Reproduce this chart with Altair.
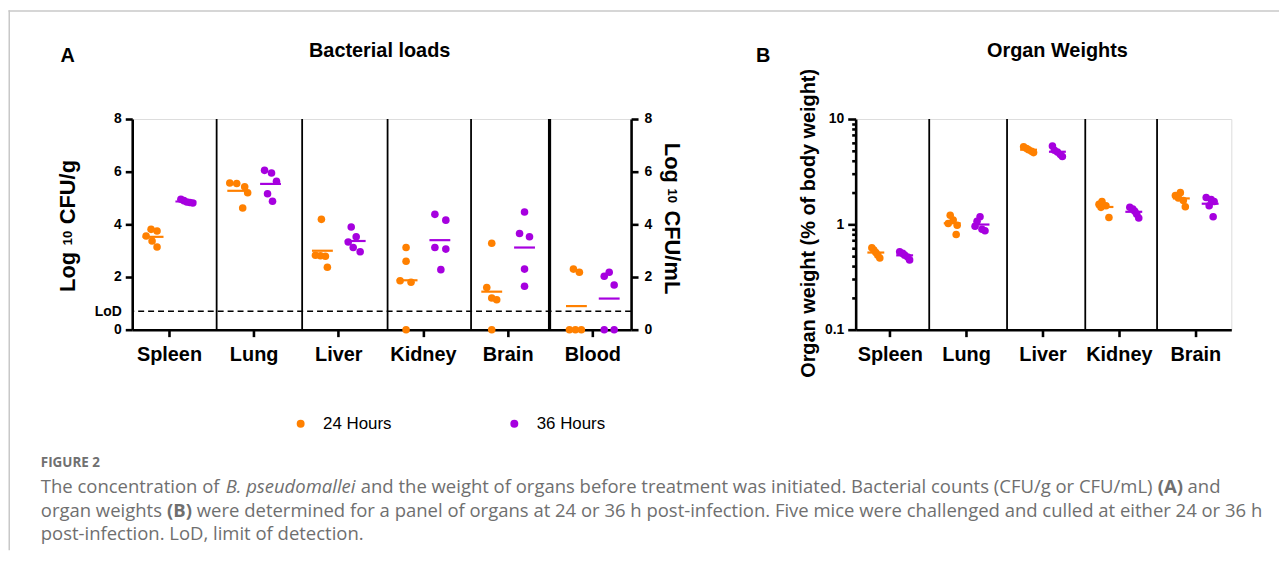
import json
import altair as alt
import pandas as pd

# ---------------------------------------------------------------- data
organs_A = ["Spleen", "Lung", "Liver", "Kidney", "Brain", "Blood"]
organs_B = ["Spleen", "Lung", "Liver", "Kidney", "Brain"]
times = ["24 Hours", "36 Hours"]

# Panel A: log10 CFU/g (organs) or log10 CFU/mL (blood), five mice per group
cfu_24h = [
    [3.81, 3.75, 3.56, 3.37, 3.14],
    [5.57, 5.55, 5.43, 5.20, 4.62],
    [4.19, 2.83, 2.81, 2.79, 2.37],
    [3.12, 2.60, 1.86, 1.80, 0.00],
    [3.28, 1.60, 1.20, 1.14, 0.00],
    [2.30, 2.18, 0.00, 0.00, 0.00],
]
cfu_36h = [
    [4.95, 4.90, 4.85, 4.83, 4.81],
    [6.05, 5.95, 5.64, 5.16, 4.88],
    [3.90, 3.53, 3.33, 3.12, 2.96],
    [4.38, 4.16, 3.12, 3.06, 2.28],
    [4.47, 3.65, 3.53, 2.30, 1.65],
    [2.03, 2.18, 1.70, 0.00, 0.00],
]
lod = [0.7]

# Panel B: organ weight, % of body weight
weight_24h = [
    [0.60, 0.57, 0.54, 0.51, 0.48],
    [1.22, 1.10, 1.02, 0.98, 0.80],
    [5.45, 5.25, 5.10, 4.95, 4.80],
    [1.65, 1.55, 1.50, 1.45, 1.16],
    [2.00, 1.88, 1.78, 1.68, 1.47],
]
weight_36h = [
    [0.55, 0.53, 0.51, 0.49, 0.46],
    [1.18, 1.07, 0.96, 0.90, 0.87],
    [5.55, 5.05, 4.85, 4.60, 4.40],
    [1.45, 1.40, 1.33, 1.25, 1.15],
    [1.80, 1.72, 1.65, 1.50, 1.18],
]

# horizontal scatter of the dots inside each group (px), as drawn in the figure
spread_A_24h = [[-2, 4, -7, -1, 4], [-8, -1, 7, 10, 5], [-1, -7, -2, 3, 5],
                [-1, -1, -7, 4, -1], [0, -5, 0, 5, 0], [-3, 3, -7, -1, 5]]
spread_A_36h = [[-5, -2, 1, 4, 7], [-6, 1, 6, -3, 2], [-4, 1, -7, -2, 5],
                [-5, 6, -5, 6, 1], [0, -5, 5, 0, 0], [-5, 0, 5, -5, 5]]
spread_B_24h = [[-4, -2, 0, 2, 4], [-2, 1, -4, 5, 4], [-5, -2, 0, 3, 5],
                [-3, -6, 1, -4, 4], [-1, -6, -3, 2, 4]]
spread_B_36h = [[-5, -2, 0, 3, 5], [-1, -4, -6, 1, 4], [-5, -3, 0, 3, 5],
                [-4, -1, 1, 3, 5], [-4, 1, 4, -1, 3]]

# category separators (in category units)
sep_A = [0.563, 1.573, 2.582, 3.568, 4.495]
sep_A_width = [1.8, 1.8, 1.8, 1.8, 3.2]
sep_B = [0.517, 1.536, 2.56, 3.5]

# ---------------------------------------------------------------- layout
FONT = "Liberation Sans"
CAP_FONT = "Open Sans"
COLORS = ["#FF8000", "#A600DF"]
A_W, A_H, A_STEP = 502, 212, 85.2
B_W, B_H, B_STEP = 378, 212, 76.85
A_OFF = {times[0]: -16, times[1]: 17}
B_OFF = {times[0]: -14, times[1]: 15}


def build(organs, v24, v36, s24, s36, step, offs):
    rows = []
    for i, org in enumerate(organs):
        for t, vals, spr in ((times[0], v24[i], s24[i]), (times[1], v36[i], s36[i])):
            for v, s in zip(vals, spr):
                rows.append(dict(organ=org, time=t, value=v,
                                 xpos=i + (offs[t] + s) / step,
                                 gx=i + offs[t] / step))
    return pd.DataFrame(rows)


dfA = build(organs_A, cfu_24h, cfu_36h, spread_A_24h, spread_A_36h, A_STEP, A_OFF)
dfB = build(organs_B, weight_24h, weight_36h, spread_B_24h, spread_B_36h, B_STEP, B_OFF)

cscale = alt.Scale(domain=times, range=COLORS)
legend = alt.Legend(orient="none", legendX=161, legendY=298, direction="horizontal",
                    title=None, symbolType="circle", symbolSize=64, symbolStrokeWidth=0,
                    labelFont=FONT, labelFontSize=17, labelColor="black", labelOffset=14,
                    columnPadding=115, padding=0)

common_axis = dict(grid=False, domainColor="black", domainWidth=2.6, tickColor="black",
                   tickWidth=2.6, labelFont=FONT, labelFontWeight="bold", labelColor="black",
                   labelFlush=False, labelOverlap=False, labelBound=False, title=None)


def text(s, x, y, size, weight="bold", font=FONT, color="black", align="left",
         angle=0, style="normal", baseline="alphabetic"):
    kw = dict(font=font, fontSize=size, fontWeight=weight, color=color, align=align,
              baseline=baseline, fontStyle=style)
    if angle:
        kw["angle"] = angle
    return alt.Chart(pd.DataFrame({"t": [s]})).mark_text(**kw).encode(
        text="t:N", x=alt.value(x), y=alt.value(y))


def frame(x, x2, y, y2):
    return alt.Chart(pd.DataFrame({"t": [0]})).mark_rect(color="#c8c8c8").encode(
        x=alt.value(x), x2=alt.value(x2), y=alt.value(y), y2=alt.value(y2))


def mean_layer(df, t, color, scale_x, scale_y, ax_x, ax_y, size):
    return alt.Chart(df).transform_filter(alt.datum.time == t).transform_aggregate(
        mean="mean(value)", groupby=["organ", "gx"]).mark_tick(
        orient="horizontal", size=size, thickness=2.2, opacity=1, color=color).encode(
        x=alt.X("gx:Q", scale=scale_x, axis=ax_x),
        y=alt.Y("mean:Q", scale=scale_y, axis=ax_y))


# ---------------------------------------------------------------- panel A
xA = alt.Scale(domain=[-0.434, 5.458], nice=False, zero=False)
yA = alt.Scale(domain=[0, 8], nice=False, zero=False)
axA_x = alt.Axis(values=list(range(len(organs_A))),
                 labelExpr=f"{json.dumps(organs_A)}[datum.value]",
                 tickSize=7, labelFontSize=20, labelPadding=8, **common_axis)
axA_left = alt.Axis(orient="left", values=[0, lod[0], 2, 4, 6, 8], format="d",
                    labelExpr="datum.value == 0.7 ? 'LoD' : datum.label",
                    tickOpacity={"condition": {"test": "datum.value == 0.7", "value": 0}, "value": 1},
                    tickSize=7, labelFontSize=14, labelPadding=4, **common_axis)
axA_right = alt.Axis(orient="right", values=[0, 2, 4, 6, 8], format="d",
                     tickSize=7, labelFontSize=14, labelPadding=6, **common_axis)

sepA = alt.Chart(pd.DataFrame({"sx": sep_A, "w": sep_A_width, "lo": 0, "hi": 8})).mark_rule(
    color="black").encode(
    x=alt.X("sx:Q", scale=xA, axis=axA_x),
    y=alt.Y("lo:Q", scale=yA, axis=None), y2="hi:Q",
    strokeWidth=alt.StrokeWidth("w:Q", scale=None, legend=None))
lodA = alt.Chart(pd.DataFrame({"lod": lod})).mark_rule(
    color="black", strokeDash=[6, 4], strokeWidth=1.6).encode(
    y=alt.Y("lod:Q", scale=yA, axis=None))
meanA24 = mean_layer(dfA, times[0], COLORS[0], xA, yA, axA_x, axA_right, 21)
meanA36 = mean_layer(dfA, times[1], COLORS[1], xA, yA, axA_x, None, 21)
ptsA = alt.Chart(dfA).mark_circle(size=58, opacity=1).encode(
    x=alt.X("xpos:Q", scale=xA, axis=axA_x),
    y=alt.Y("value:Q", scale=yA, axis=axA_left),
    color=alt.Color("time:N", scale=cscale, legend=legend))

GRAY = "#6f6f6f"
CS = 18.6
decoA = [
    frame(-124.5, -123, -109.5, 434),
    frame(-124.5, 1154, -109.5, -108),
    text("A", -65, -57, 20, align="center"),
    text("Bacterial loads", 249, -62, 20, align="center"),
    text("Log", -58, 174, 22, angle=270),
    text("10", -61, 127, 13, angle=270),
    text("CFU/g", -58, 106, 22, angle=270),
    text("Log", 536, 24, 22, angle=90),
    text("10", 539, 70, 13, angle=90),
    text("CFU/mL", 536, 92, 22, angle=90),
    # caption
    text("FIGURE 2", -92, 350, 13.5, weight="bold", font=CAP_FONT, color="#707070"),
    text("The concentration of", -92, 376, CS, weight="normal", font=CAP_FONT, color=GRAY),
    text("B. pseudomallei", 94, 376, CS, weight="normal", font=CAP_FONT, color=GRAY, style="italic"),
    text("and the weight of organs before treatment was initiated. Bacterial counts (CFU/g or CFU/mL)",
         230, 376, CS, weight="normal", font=CAP_FONT, color=GRAY),
    text("(A)", 1032, 376, CS, weight="bold", font=CAP_FONT, color=GRAY),
    text("and", 1062, 376, CS, weight="normal", font=CAP_FONT, color=GRAY),
    text("organ weights", -92, 400, CS, weight="normal", font=CAP_FONT, color=GRAY),
    text("(B)", 35, 400, CS, weight="bold", font=CAP_FONT, color=GRAY),
    text("were determined for a panel of organs at 24 or 36 h post-infection. Five mice were challenged and culled at either 24 or 36 h",
         65, 400, CS, weight="normal", font=CAP_FONT, color=GRAY),
    text("post-infection. LoD, limit of detection.", -92, 424, CS, weight="normal",
         font=CAP_FONT, color=GRAY),
]

panelA = alt.layer(sepA, lodA, meanA24, meanA36, ptsA, *decoA).resolve_axis(
    y="independent").properties(width=A_W, height=A_H)

# ---------------------------------------------------------------- panel B
xB = alt.Scale(domain=[-0.446, 4.472], nice=False, zero=False)
yB = alt.Scale(type="log", domain=[0.1, 10], nice=False)
yB_ticks = [0.1, 0.2, 0.3, 0.4, 0.5, 0.6, 0.7, 0.8, 0.9, 1, 2, 3, 4, 5, 6, 7, 8, 9, 10]
major = "(datum.value == 0.1 || datum.value == 1 || datum.value == 10)"
axB_x = alt.Axis(values=list(range(len(organs_B))),
                 labelExpr=f"{json.dumps(organs_B)}[datum.value]",
                 tickSize=7, labelFontSize=20, labelPadding=8, **common_axis)
axB_y = alt.Axis(orient="left", values=yB_ticks,
                 labelExpr=f"{major} ? (datum.value == 0.1 ? '0.1' : datum.value == 1 ? '1' : '10') : ''",
                 tickSize={"condition": {"test": major, "value": 8}, "value": 4},
                 labelFontSize=14, labelPadding=4, **common_axis)

sepB = alt.Chart(pd.DataFrame({"sx": sep_B, "lo": 0.1, "hi": 10})).mark_rule(
    color="black", strokeWidth=1.8).encode(
    x=alt.X("sx:Q", scale=xB, axis=axB_x),
    y=alt.Y("lo:Q", scale=yB, axis=axB_y), y2="hi:Q")
meanB24 = mean_layer(dfB, times[0], COLORS[0], xB, yB, axB_x, axB_y, 17)
meanB36 = mean_layer(dfB, times[1], COLORS[1], xB, yB, axB_x, axB_y, 17)
ptsB = alt.Chart(dfB).mark_circle(size=58, opacity=1).encode(
    x=alt.X("xpos:Q", scale=xB, axis=axB_x),
    y=alt.Y("value:Q", scale=yB, axis=axB_y),
    color=alt.Color("time:N", scale=cscale, legend=legend))
decoB = [
    text("B", -93, -57, 20, align="center"),
    text("Organ Weights", 203, -62, 20, align="center"),
    text("Organ weight (% of body weight)", -41, 105, 20, angle=270, align="center"),
]
panelB = alt.layer(sepB, meanB24, meanB36, ptsB, *decoB).properties(width=B_W, height=B_H)

chart = alt.hconcat(panelA, panelB, spacing=226, bounds="flush").properties(
    padding={"left": 0, "top": 0, "right": 0, "bottom": 0}
).configure_view(stroke=None).configure(font=FONT)

chart.save("out.html", embed_options={"renderer": "svg", "actions": False})
